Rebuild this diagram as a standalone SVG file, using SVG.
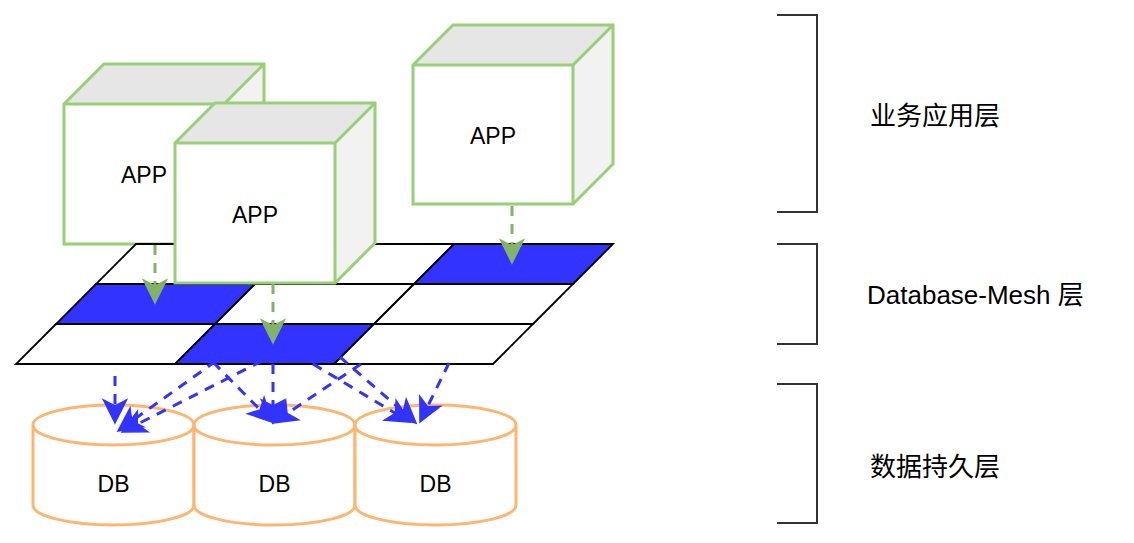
<svg xmlns="http://www.w3.org/2000/svg" width="1134" height="543" viewBox="0 0 1134 543">
  <style>
    .cube-front { fill: #FFFFFF; }
    .cube-top { fill: #E6E6E6; }
    .cube-side { fill: #F2F2F2; }
    .cube-line { fill: none; stroke: #97D077; stroke-width: 3; stroke-linejoin: miter; }
    .cell { stroke: #000000; stroke-width: 1.8; stroke-linejoin: miter; }
    .cell-w { fill: #FFFFFF; }
    .cell-b { fill: #3333FF; }
    .db { fill: #FFFFFF; stroke: #FFB570; stroke-width: 3; }
    .bracket { fill: none; stroke: #333333; stroke-width: 2; }
    .lbl { font-family: "Liberation Sans", Arial, sans-serif; font-size: 23px; fill: #000000; text-anchor: middle; dominant-baseline: central; }
    .side { font-family: "Liberation Sans", "Noto Sans CJK SC", sans-serif; font-size: 26px; fill: #000000; dominant-baseline: central; }
    .edge-g { fill: none; stroke: #82B366; stroke-width: 3; stroke-dasharray: 10 8; marker-end: url(#ah-g); }
    .edge-b { fill: none; stroke: #3333FF; stroke-width: 3; stroke-dasharray: 10 8; marker-end: url(#ah-b); }
  </style>
  <defs>
    <marker id="ah-g" markerUnits="userSpaceOnUse" viewBox="-10 -15 32 30" markerWidth="32" markerHeight="30" refX="0" refY="0" orient="auto">
      <path d="M17,0 L-6,-11.5 L0,0 L-6,11.5 Z" fill="#82B366" stroke="#82B366" stroke-width="1.5" stroke-linejoin="miter"/>
    </marker>
    <marker id="ah-b" markerUnits="userSpaceOnUse" viewBox="-10 -15 32 30" markerWidth="32" markerHeight="30" refX="0" refY="0" orient="auto">
      <path d="M17,0 L-6,-11.5 L0,0 L-6,11.5 Z" fill="#3333FF" stroke="#3333FF" stroke-width="1.5" stroke-linejoin="miter"/>
    </marker>
  </defs>

  <rect width="1134" height="543" fill="#FFFFFF"/>

  <!-- Layer brackets -->
  <g id="bracket-app">
    <path class="bracket" d="M777,15 H817 V212 H777"/>
  </g>
  <g id="bracket-mesh">
    <path class="bracket" d="M777,244 H817 V344 H777"/>
  </g>
  <g id="bracket-data">
    <path class="bracket" d="M777,384 H817 V523 H777"/>
  </g>

  <g id="label-app"><text class="side" x="870" y="116">业务应用层</text></g>
  <g id="label-mesh"><text class="side" x="867" y="295">Database-Mesh 层</text></g>
  <g id="label-data"><text class="side" x="870" y="467">数据持久层</text></g>

  <!-- APP cube 1 -->
  <g id="app1">
    <rect class="cube-front" x="64" y="104" width="160" height="140"/>
    <polygon class="cube-top" points="64,104 104,64 264,64 224,104"/>
    <polygon class="cube-side" points="224,104 264,64 264,204 224,244"/>
    <path class="cube-line" d="M64,104 L104,64 H264 V204 L224,244 H64 Z M64,104 H224 L264,64 M224,104 V244"/>
    <text class="lbl" x="144" y="175">APP</text>
  </g>

  <!-- APP cube 3 -->
  <g id="app3">
    <rect class="cube-front" x="413" y="65" width="160" height="139"/>
    <polygon class="cube-top" points="413,65 453,25 613,25 573,65"/>
    <polygon class="cube-side" points="573,65 613,25 613,164 573,204"/>
    <path class="cube-line" d="M413,65 L453,25 H613 V164 L573,204 H413 Z M413,65 H573 L613,25 M573,65 V204"/>
    <text class="lbl" x="493" y="136">APP</text>
  </g>

  <!-- Database-Mesh grid -->
  <g id="mesh">
    <g id="cell-r0c0"><polygon class="cell cell-w" points="136,244 295,244 255,284 96,284"/></g>
    <g id="cell-r0c1"><polygon class="cell cell-w" points="295,244 454,244 414,284 255,284"/></g>
    <g id="cell-r0c2"><polygon class="cell cell-b" points="454,244 613,244 573,284 414,284"/></g>
    <g id="cell-r1c0"><polygon class="cell cell-b" points="96,284 255,284 215,324 56,324"/></g>
    <g id="cell-r1c1"><polygon class="cell cell-w" points="255,284 414,284 374,324 215,324"/></g>
    <g id="cell-r1c2"><polygon class="cell cell-w" points="414,284 573,284 533,324 374,324"/></g>
    <g id="cell-r2c0"><polygon class="cell cell-w" points="56,324 215,324 175,364 16,364"/></g>
    <g id="cell-r2c1"><polygon class="cell cell-b" points="215,324 374,324 334,364 175,364"/></g>
    <g id="cell-r2c2"><polygon class="cell cell-w" points="374,324 533,324 493,364 334,364"/></g>
  </g>

  <!-- APP cube 2 -->
  <g id="app2">
    <rect class="cube-front" x="175" y="143" width="160" height="140"/>
    <polygon class="cube-top" points="175,143 215,103 375,103 335,143"/>
    <polygon class="cube-side" points="335,143 375,103 375,243 335,283"/>
    <path class="cube-line" d="M175,143 L215,103 H375 V243 L335,283 H175 Z M175,143 H335 L375,103 M335,143 V283"/>
    <text class="lbl" x="255" y="215">APP</text>
  </g>

  <!-- DB cylinders -->
  <g id="db1">
    <path class="db" d="M33,425 A80.5,20 0 0 1 194,425 V505 A80.5,20 0 0 1 33,505 Z M33,425 A80.5,20 0 0 0 194,425"/>
    <text class="lbl" x="113.5" y="484">DB</text>
  </g>
  <g id="db2">
    <path class="db" d="M194,425 A80.5,20 0 0 1 355,425 V505 A80.5,20 0 0 1 194,505 Z M194,425 A80.5,20 0 0 0 355,425"/>
    <text class="lbl" x="274.5" y="484">DB</text>
  </g>
  <g id="db3">
    <path class="db" d="M355,425 A80.5,20 0 0 1 516,425 V505 A80.5,20 0 0 1 355,505 Z M355,425 A80.5,20 0 0 0 516,425"/>
    <text class="lbl" x="435.5" y="484">DB</text>
  </g>

  <!-- Connectors -->
  <g id="connectors">
    <path class="edge-g" d="M155,245 V286"/>
    <path class="edge-g" d="M273,284 V326"/>
    <path class="edge-g" d="M512,206 V246"/>

    <path class="edge-b" d="M115,376 L115,406"/>
    <path class="edge-b" d="M216,361 L131.8,421.1"/>
    <path class="edge-b" d="M262,361 L137.2,424.3"/>
    <path class="edge-b" d="M213,362 L260.1,409.9"/>
    <path class="edge-b" d="M273,364 L273,406"/>
    <path class="edge-b" d="M361,364 L287.1,413.5"/>
    <path class="edge-b" d="M313,364 L395.4,413.3"/>
    <path class="edge-b" d="M340,357 L403.2,411.9"/>
    <path class="edge-b" d="M449,363 L427.5,406.7"/>
  </g>
</svg>
